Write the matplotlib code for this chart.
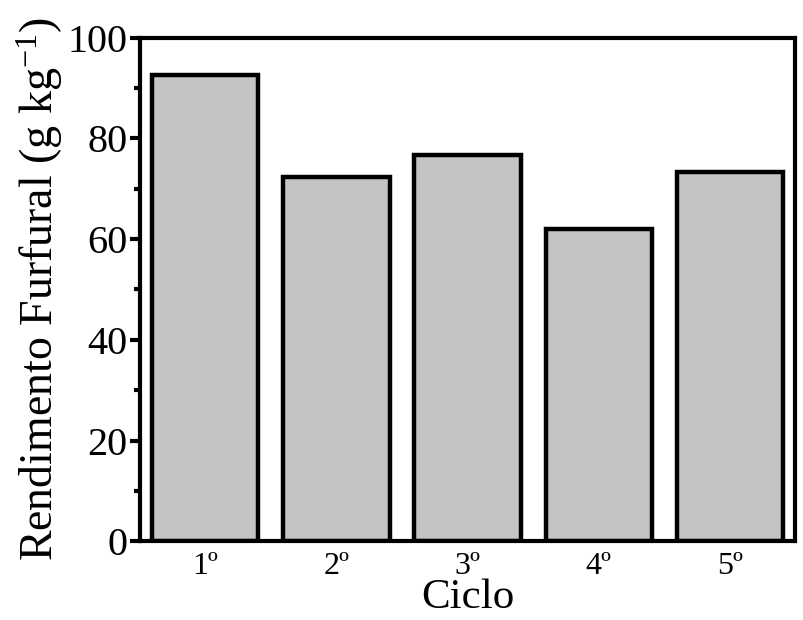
import numpy as np
import matplotlib
matplotlib.use('Agg')
import matplotlib.pyplot as plt
from matplotlib.ticker import MultipleLocator

plt.rcParams['font.family'] = ['Liberation Serif', 'DejaVu Serif']
plt.rcParams['mathtext.fontset'] = 'custom'
plt.rcParams['mathtext.rm'] = 'Liberation Serif'
plt.rcParams['mathtext.it'] = 'Liberation Serif:italic'

ciclos = ['1º', '2º', '3º', '4º', '5º']
rendimento = [92.6, 72.3, 76.6, 62.0, 73.3]

fig = plt.figure(figsize=(8.04, 6.2), dpi=100)
ax = fig.add_axes([0.174, 0.127, 0.815, 0.8125])

x = np.arange(len(ciclos))
ax.bar(x, rendimento, width=0.81, color='#c4c4c4', edgecolor='black', linewidth=3.2)

ax.set_xlim(-0.5, len(ciclos) - 0.5)
ax.set_ylim(0, 100)
ax.set_xticks(x)
ax.set_xticklabels(ciclos, fontsize=23)
ax.tick_params(axis='x', length=0, pad=8)
ax.yaxis.set_major_locator(MultipleLocator(20))
ax.yaxis.set_minor_locator(MultipleLocator(10))
ax.tick_params(axis='y', which='major', length=7, width=3, labelsize=29, pad=2)
ax.tick_params(axis='y', which='minor', length=4, width=3)

for s in ax.spines.values():
    s.set_linewidth(3)

ax.set_xlabel('Ciclo', fontsize=31, labelpad=-2)
ax.set_ylabel('Rendimento Furfural (g kg$^{-1}$)', fontsize=33, labelpad=2)

fig.savefig('out.png', dpi=100)
